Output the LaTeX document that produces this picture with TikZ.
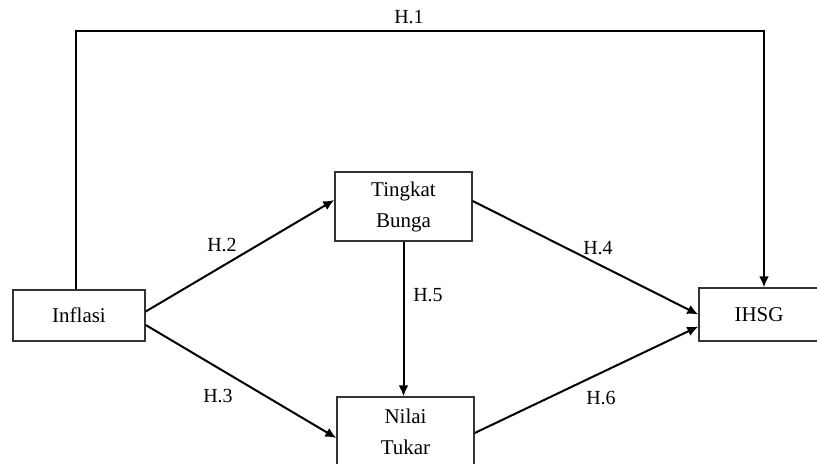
\documentclass[tikz,border=0pt]{standalone}
\usepackage{fontspec}
\setmainfont{Liberation Serif}
\usetikzlibrary{arrows.meta}

\begin{document}
\begin{tikzpicture}[x=0.5pt, y=-0.5pt,
    var/.style={draw=black!80, line width=0.7pt, align=center, inner sep=0pt,
      font=\fontsize{10.5}{15.5}\selectfont},
    link/.style={line width=1pt, -{Latex[length=5.5pt, width=5pt]}},
    hyp/.style={font=\fontsize{10}{12}\selectfont}]
    \useasboundingbox (0, 0) rectangle (817, 464);

    \node [var, minimum width=66pt, minimum height=25.5pt] (inf) at (79, 315.5) {Inflasi};
    \node [var, minimum width=68.5pt, minimum height=34.5pt] (tb) at (403.5, 206.5) {Tingkat\\Bunga};
    \node [var, minimum width=68.5pt, minimum height=34.5pt] (nt) at (405.5, 431.5) {Nilai\\Tukar};
    \node [var, minimum width=68pt, minimum height=26.5pt] (ihsg) at (767, 314.5) {\hspace*{-8pt}IHSG};

    \coordinate (top) at (420, 31);

    \draw [link] ([xshift=-1.5pt]inf.north) |- (top) -| ([xshift=-1.5pt]ihsg.north);
    \draw [link] ([yshift=2pt]inf.east) -- ([yshift=3.25pt]tb.west);
    \draw [link] ([yshift=-4.75pt]inf.east) -- ([yshift=-3.25pt]nt.west);
    \draw [link] ([yshift=2.75pt]tb.east) -- ([yshift=0pt]ihsg.west);
    \draw [link] (tb.south) -- (tb.south |- nt.north);
    \draw [link] ([yshift=-0.75pt]nt.east) -- ([yshift=-6pt]ihsg.west);

    \node [hyp] (h1) at (409, 17) {H.1};
    \node [hyp] (h2) at (222, 245) {H.2};
    \node [hyp] (h3) at (218, 396) {H.3};
    \node [hyp] (h4) at (598, 248) {H.4};
    \node [hyp] (h5) at (428, 295) {H.5};
    \node [hyp] (h6) at (601, 398) {H.6};
\end{tikzpicture}
\end{document}
